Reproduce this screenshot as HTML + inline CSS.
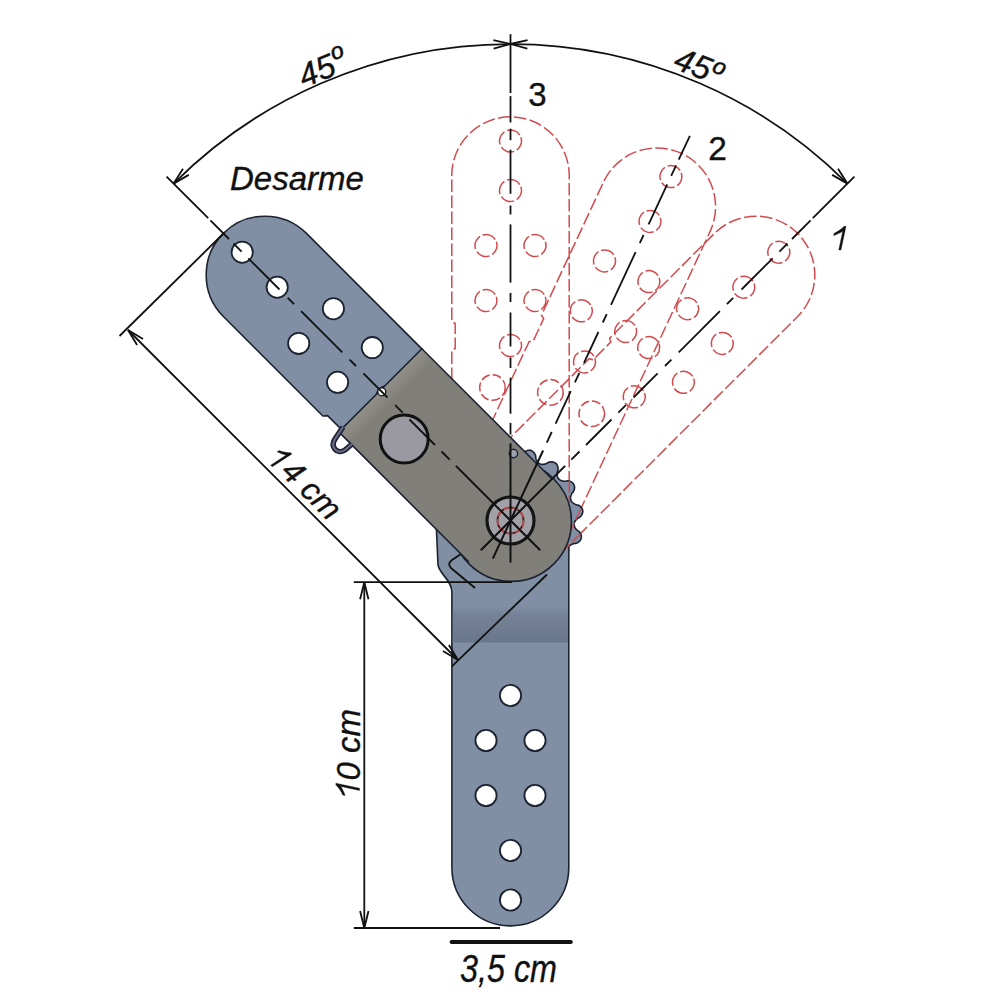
<!DOCTYPE html>
<html><head><meta charset="utf-8"><style>
html,body{margin:0;padding:0;background:#fff;}
svg{display:block;}
</style></head><body>
<svg width="1000" height="1000" viewBox="0 0 1000 1000">
<defs><linearGradient id="band" x1="0" y1="0" x2="0" y2="1"><stop offset="0" stop-color="#6f7c90" stop-opacity="0"/><stop offset="0.25" stop-color="#6f7c90" stop-opacity="0.7"/><stop offset="0.97" stop-color="#68758a" stop-opacity="0.95"/><stop offset="1" stop-color="#68758a" stop-opacity="0"/></linearGradient></defs>
<rect width="1000" height="1000" fill="#fff"/>
<path d="M569.2,483.5 L569.2,173.2 A58.75,58.75 0 0 0 451.8,173.2 L451.8,321.5 L455.2,323.5 L455.2,348.5 L451.8,350.5 L451.8,520.5" fill="none" stroke="#d04a4e" stroke-width="1.5" stroke-dasharray="12.5 3.5"/>
<circle cx="510.5" cy="141.0" r="11" fill="none" stroke="#d04a4e" stroke-width="1.5" stroke-dasharray="14.3 3" transform="rotate(-20 510.5 141.0)"/>
<circle cx="510.5" cy="190.5" r="11" fill="none" stroke="#d04a4e" stroke-width="1.5" stroke-dasharray="14.3 3" transform="rotate(-20 510.5 190.5)"/>
<circle cx="486.0" cy="245.5" r="11" fill="none" stroke="#d04a4e" stroke-width="1.5" stroke-dasharray="14.3 3" transform="rotate(-20 486.0 245.5)"/>
<circle cx="535.0" cy="245.5" r="11" fill="none" stroke="#d04a4e" stroke-width="1.5" stroke-dasharray="14.3 3" transform="rotate(-20 535.0 245.5)"/>
<circle cx="486.0" cy="300.5" r="11" fill="none" stroke="#d04a4e" stroke-width="1.5" stroke-dasharray="14.3 3" transform="rotate(-20 486.0 300.5)"/>
<circle cx="535.0" cy="300.5" r="11" fill="none" stroke="#d04a4e" stroke-width="1.5" stroke-dasharray="14.3 3" transform="rotate(-20 535.0 300.5)"/>
<circle cx="510.5" cy="345.5" r="11" fill="none" stroke="#d04a4e" stroke-width="1.5" stroke-dasharray="14.3 3" transform="rotate(-20 510.5 345.5)"/>
<circle cx="492.5" cy="387.5" r="12.8" fill="none" stroke="#d04a4e" stroke-width="1.5" stroke-dasharray="9 3"/>
<path d="M579.4,511.8 L710.5,230.6 A58.75,58.75 0 0 0 604.0,181.0 L541.4,315.3 L543.7,318.6 L533.1,341.3 L529.1,341.6 L457.3,495.7" fill="none" stroke="#d04a4e" stroke-width="1.5" stroke-dasharray="12.5 3.5"/>
<circle cx="670.9" cy="176.6" r="11" fill="none" stroke="#d04a4e" stroke-width="1.5" stroke-dasharray="14.3 3" transform="rotate(-20 670.9 176.6)"/>
<circle cx="650.0" cy="221.4" r="11" fill="none" stroke="#d04a4e" stroke-width="1.5" stroke-dasharray="14.3 3" transform="rotate(-20 650.0 221.4)"/>
<circle cx="604.5" cy="260.9" r="11" fill="none" stroke="#d04a4e" stroke-width="1.5" stroke-dasharray="14.3 3" transform="rotate(-20 604.5 260.9)"/>
<circle cx="648.9" cy="281.6" r="11" fill="none" stroke="#d04a4e" stroke-width="1.5" stroke-dasharray="14.3 3" transform="rotate(-20 648.9 281.6)"/>
<circle cx="581.3" cy="310.8" r="11" fill="none" stroke="#d04a4e" stroke-width="1.5" stroke-dasharray="14.3 3" transform="rotate(-20 581.3 310.8)"/>
<circle cx="625.7" cy="331.5" r="11" fill="none" stroke="#d04a4e" stroke-width="1.5" stroke-dasharray="14.3 3" transform="rotate(-20 625.7 331.5)"/>
<circle cx="584.5" cy="361.9" r="11" fill="none" stroke="#d04a4e" stroke-width="1.5" stroke-dasharray="14.3 3" transform="rotate(-20 584.5 361.9)"/>
<circle cx="550.4" cy="392.4" r="12.8" fill="none" stroke="#d04a4e" stroke-width="1.5" stroke-dasharray="9 3"/>
<path d="M578.2,535.9 L797.6,316.5 A58.75,58.75 0 0 0 714.5,233.4 L609.7,338.2 L610.7,342.1 L593.1,359.8 L589.2,358.7 L469.0,479.0" fill="none" stroke="#d04a4e" stroke-width="1.5" stroke-dasharray="12.5 3.5"/>
<circle cx="778.8" cy="252.2" r="11" fill="none" stroke="#d04a4e" stroke-width="1.5" stroke-dasharray="14.3 3" transform="rotate(-20 778.8 252.2)"/>
<circle cx="743.8" cy="287.2" r="11" fill="none" stroke="#d04a4e" stroke-width="1.5" stroke-dasharray="14.3 3" transform="rotate(-20 743.8 287.2)"/>
<circle cx="687.6" cy="308.7" r="11" fill="none" stroke="#d04a4e" stroke-width="1.5" stroke-dasharray="14.3 3" transform="rotate(-20 687.6 308.7)"/>
<circle cx="722.3" cy="343.4" r="11" fill="none" stroke="#d04a4e" stroke-width="1.5" stroke-dasharray="14.3 3" transform="rotate(-20 722.3 343.4)"/>
<circle cx="648.7" cy="347.6" r="11" fill="none" stroke="#d04a4e" stroke-width="1.5" stroke-dasharray="14.3 3" transform="rotate(-20 648.7 347.6)"/>
<circle cx="683.4" cy="382.3" r="11" fill="none" stroke="#d04a4e" stroke-width="1.5" stroke-dasharray="14.3 3" transform="rotate(-20 683.4 382.3)"/>
<circle cx="634.2" cy="396.8" r="11" fill="none" stroke="#d04a4e" stroke-width="1.5" stroke-dasharray="14.3 3" transform="rotate(-20 634.2 396.8)"/>
<circle cx="591.8" cy="413.7" r="12.8" fill="none" stroke="#d04a4e" stroke-width="1.5" stroke-dasharray="9 3"/>
<line x1="510.5" y1="434.5" x2="510.5" y2="422.9" stroke="#111" stroke-width="1.8"/>
<line x1="510.5" y1="413.7" x2="510.5" y2="377.7" stroke="#111" stroke-width="1.8"/>
<line x1="510.5" y1="368.0" x2="510.5" y2="357.5" stroke="#111" stroke-width="1.8"/>
<line x1="510.5" y1="346.5" x2="510.5" y2="312.5" stroke="#111" stroke-width="1.8"/>
<line x1="510.5" y1="302.0" x2="510.5" y2="292.9" stroke="#111" stroke-width="1.8"/>
<line x1="510.5" y1="282.6" x2="510.5" y2="224.4" stroke="#111" stroke-width="1.8"/>
<line x1="510.5" y1="214.5" x2="510.5" y2="205.5" stroke="#111" stroke-width="1.8"/>
<line x1="510.5" y1="193.8" x2="510.5" y2="149.7" stroke="#111" stroke-width="1.8"/>
<line x1="510.5" y1="140.2" x2="510.5" y2="128.7" stroke="#111" stroke-width="1.8"/>
<line x1="510.5" y1="122.4" x2="510.5" y2="96.1" stroke="#111" stroke-width="1.8"/>
<line x1="510.5" y1="93.0" x2="510.5" y2="34.2" stroke="#111" stroke-width="1.8"/>
<line x1="546.8" y1="442.6" x2="551.7" y2="432.0" stroke="#111" stroke-width="1.8"/>
<line x1="555.6" y1="423.7" x2="570.8" y2="391.1" stroke="#111" stroke-width="1.8"/>
<line x1="574.9" y1="382.3" x2="579.4" y2="372.8" stroke="#111" stroke-width="1.8"/>
<line x1="584.0" y1="362.8" x2="598.4" y2="332.0" stroke="#111" stroke-width="1.8"/>
<line x1="602.8" y1="322.5" x2="606.7" y2="314.2" stroke="#111" stroke-width="1.8"/>
<line x1="611.0" y1="304.9" x2="635.6" y2="252.1" stroke="#111" stroke-width="1.8"/>
<line x1="639.8" y1="243.2" x2="643.6" y2="235.0" stroke="#111" stroke-width="1.8"/>
<line x1="648.6" y1="224.4" x2="667.2" y2="184.4" stroke="#111" stroke-width="1.8"/>
<line x1="671.2" y1="175.8" x2="676.1" y2="165.4" stroke="#111" stroke-width="1.8"/>
<line x1="678.7" y1="159.7" x2="689.9" y2="135.9" stroke="#111" stroke-width="1.8"/>
<line x1="571.3" y1="459.7" x2="579.5" y2="451.5" stroke="#111" stroke-width="1.8"/>
<line x1="586.0" y1="445.0" x2="611.5" y2="419.5" stroke="#111" stroke-width="1.8"/>
<line x1="618.3" y1="412.7" x2="625.8" y2="405.2" stroke="#111" stroke-width="1.8"/>
<line x1="633.5" y1="397.5" x2="657.6" y2="373.4" stroke="#111" stroke-width="1.8"/>
<line x1="665.0" y1="366.0" x2="671.4" y2="359.6" stroke="#111" stroke-width="1.8"/>
<line x1="678.7" y1="352.3" x2="719.9" y2="311.1" stroke="#111" stroke-width="1.8"/>
<line x1="726.9" y1="304.1" x2="733.2" y2="297.8" stroke="#111" stroke-width="1.8"/>
<line x1="741.5" y1="289.5" x2="772.7" y2="258.3" stroke="#111" stroke-width="1.8"/>
<line x1="779.4" y1="251.6" x2="787.5" y2="243.5" stroke="#111" stroke-width="1.8"/>
<line x1="792.0" y1="239.0" x2="810.6" y2="220.4" stroke="#111" stroke-width="1.8"/>
<line x1="812.8" y1="218.2" x2="854.4" y2="176.6" stroke="#111" stroke-width="1.8"/>
<path d="M451.9,867.5 L451.9,592 C451.9,580 440,575 438,565 L436.5,531 L436.5,470 L512.8,455.5 L512.8,455.5 L513.3,455.9 L513.8,456.2 L514.3,456.5 L514.8,456.7 L515.3,456.9 L515.8,457.0 L516.3,457.1 L516.9,457.1 L517.4,457.0 L517.9,457.0 L518.5,456.8 L519.0,456.6 L519.6,456.4 L520.2,456.1 L520.8,455.7 L521.4,455.3 L522.0,454.8 L522.7,454.1 L523.5,452.9 L524.2,452.2 L524.9,451.7 L525.6,451.3 L526.2,450.9 L526.9,450.7 L527.5,450.5 L528.2,450.3 L528.8,450.3 L529.4,450.3 L530.0,450.3 L530.6,450.4 L531.2,450.6 L531.7,450.8 L532.2,451.1 L532.8,451.5 L533.2,451.9 L533.7,452.3 L534.1,452.8 L534.6,453.4 L534.9,454.1 L535.3,454.8 L535.6,455.6 L535.8,456.6 L535.8,458.1 L536.0,459.0 L536.3,459.7 L536.6,460.4 L536.9,461.0 L537.2,461.6 L537.6,462.1 L538.0,462.5 L538.3,462.9 L538.7,463.3 L539.2,463.6 L539.6,463.8 L540.1,464.1 L540.6,464.2 L541.1,464.3 L541.7,464.4 L542.3,464.5 L542.9,464.4 L543.5,464.4 L544.2,464.3 L544.9,464.1 L545.7,463.9 L546.5,463.6 L547.7,462.8 L548.7,462.3 L549.5,462.1 L550.3,462.0 L551.0,461.9 L551.7,461.9 L552.4,461.9 L553.1,462.1 L553.7,462.2 L554.3,462.4 L554.8,462.7 L555.3,463.0 L555.8,463.4 L556.2,463.8 L556.6,464.2 L556.9,464.8 L557.3,465.3 L557.5,465.9 L557.7,466.5 L557.9,467.2 L558.0,468.0 L558.1,468.7 L558.1,469.6 L557.9,470.6 L557.4,472.0 L557.2,472.9 L557.2,473.7 L557.2,474.4 L557.3,475.1 L557.4,475.8 L557.5,476.4 L557.6,476.9 L557.8,477.5 L558.1,478.0 L558.4,478.4 L558.7,478.8 L559.0,479.2 L559.4,479.5 L559.9,479.9 L560.3,480.1 L560.9,480.4 L561.4,480.6 L562.0,480.8 L562.7,481.0 L563.4,481.1 L564.2,481.2 L565.1,481.2 L566.4,481.0 L567.5,480.8 L568.4,480.9 L569.2,481.1 L569.9,481.3 L570.6,481.6 L571.2,481.9 L571.8,482.2 L572.3,482.6 L572.8,483.0 L573.2,483.4 L573.5,483.9 L573.8,484.4 L574.1,485.0 L574.3,485.5 L574.4,486.1 L574.5,486.7 L574.6,487.4 L574.5,488.1 L574.4,488.8 L574.3,489.5 L574.1,490.2 L573.7,491.0 L573.3,491.9 L572.2,492.9 L571.7,493.8 L571.4,494.5 L571.1,495.2 L570.9,495.9 L570.7,496.5 L570.6,497.1 L570.5,497.7 L570.5,498.3 L570.5,498.8 L570.6,499.3 L570.8,499.8 L570.9,500.3 L571.2,500.8 L571.4,501.2 L571.8,501.7 L572.2,502.1 L572.6,502.5 L573.1,503.0 L573.6,503.4 L574.2,503.7 L574.9,504.1 L575.7,504.5 L576.8,504.8 L578.1,505.1 L578.9,505.5 L579.6,505.9 L580.2,506.4 L580.7,506.8 L581.2,507.4 L581.6,507.9 L582.0,508.4 L582.2,509.0 L582.5,509.5 L582.6,510.1 L582.7,510.7 L582.8,511.3 L582.8,511.9 L582.7,512.5 L582.5,513.1 L582.3,513.7 L582.1,514.3 L581.7,514.9 L581.3,515.5 L580.8,516.2 L580.3,516.8 L579.6,517.4 L578.2,518.0 L577.4,518.6 L576.8,519.1 L576.2,519.7 L575.8,520.2 L575.4,520.7 L575.0,521.3 L574.7,521.8 L574.5,522.3 L574.3,522.8 L574.2,523.3 L574.1,523.8 L574.1,524.4 L574.1,524.9 L574.2,525.4 L574.3,525.9 L574.5,526.5 L574.8,527.0 L575.0,527.6 L575.4,528.2 L575.8,528.7 L576.3,529.4 L576.8,530.0 L577.7,530.7 L578.9,531.4 L579.5,532.1 L580.0,532.8 L580.4,533.4 L580.7,534.1 L581.0,534.7 L581.1,535.3 L581.3,536.0 L581.3,536.6 L581.3,537.2 L581.3,537.8 L581.2,538.4 L581.0,539.0 L580.8,539.5 L580.5,540.0 L580.1,540.5 L579.7,541.0 L579.2,541.5 L578.7,542.0 L578.1,542.4 L577.5,542.8 L576.7,543.1 L575.8,543.4 L574.4,543.5 L573.4,543.7 L572.6,544.0 L571.9,544.3 L571.2,544.6 L570.6,545.0 L570.1,545.3 L569.7,545.7 L569.2,546.1 L568.9,546.5 L568.8,561.4 L568.8,867.5 A58.45,58.45 0 0 1 451.9,867.5 Z" fill="#808fa4" stroke="#1c2230" stroke-width="1.6"/>
<rect x="452.7" y="606" width="115.3" height="37" fill="url(#band)"/>
<circle cx="510.5" cy="900.0" r="10.6" fill="#fff" stroke="#1c2230" stroke-width="1.8"/>
<circle cx="510.5" cy="850.5" r="10.6" fill="#fff" stroke="#1c2230" stroke-width="1.8"/>
<circle cx="535.0" cy="795.5" r="10.6" fill="#fff" stroke="#1c2230" stroke-width="1.8"/>
<circle cx="486.0" cy="795.5" r="10.6" fill="#fff" stroke="#1c2230" stroke-width="1.8"/>
<circle cx="535.0" cy="740.5" r="10.6" fill="#fff" stroke="#1c2230" stroke-width="1.8"/>
<circle cx="486.0" cy="740.5" r="10.6" fill="#fff" stroke="#1c2230" stroke-width="1.8"/>
<circle cx="510.5" cy="695.5" r="10.6" fill="#fff" stroke="#1c2230" stroke-width="1.8"/>
<line x1="451.9" y1="666.3" x2="547" y2="574.5" stroke="#111" stroke-width="1.8"/>
<path d="M461,554 L452,560 Q447,564 451,568 L475,588" fill="none" stroke="#111" stroke-width="1.8"/>
<line x1="569.2" y1="480.5" x2="569.2" y2="515.5" stroke="#d04a4e" stroke-width="1.6" stroke-dasharray="12 3" opacity="0.85"/>
<line x1="580.7" y1="509.1" x2="565.9" y2="540.8" stroke="#d04a4e" stroke-width="1.6" stroke-dasharray="12 3" opacity="0.85"/>
<line x1="580.3" y1="533.8" x2="555.6" y2="558.5" stroke="#d04a4e" stroke-width="1.6" stroke-dasharray="12 3" opacity="0.85"/>
<path d="M422.6,349.6 L306.5,233.4 A58.75,58.75 0 0 0 223.4,316.5 L322.9,416.0 L327.6,415.6 L342.1,430.1 Z" fill="#808fa4" stroke="#1c2230" stroke-width="1.6"/>
<circle cx="242.2" cy="252.2" r="10.6" fill="#fff" stroke="#1c2230" stroke-width="1.8"/>
<circle cx="277.2" cy="287.2" r="10.6" fill="#fff" stroke="#1c2230" stroke-width="1.8"/>
<circle cx="298.7" cy="343.4" r="10.6" fill="#fff" stroke="#1c2230" stroke-width="1.8"/>
<circle cx="333.4" cy="308.7" r="10.6" fill="#fff" stroke="#1c2230" stroke-width="1.8"/>
<circle cx="337.6" cy="382.3" r="10.6" fill="#fff" stroke="#1c2230" stroke-width="1.8"/>
<circle cx="372.3" cy="347.6" r="10.6" fill="#fff" stroke="#1c2230" stroke-width="1.8"/>
<circle cx="386.8" cy="396.8" r="10.6" fill="#fff" stroke="#1c2230" stroke-width="1.8"/>
<defs><linearGradient id="sheen" gradientUnits="userSpaceOnUse" x1="380.4" y1="390.4" x2="391.7" y2="401.7"><stop offset="0" stop-color="#939089"/><stop offset="1" stop-color="#807f79"/></linearGradient></defs>
<circle cx="511.4" cy="521.4" r="60" fill="#807f79" stroke="#1c2230" stroke-width="1.6"/>
<path d="M421.9,348.8 L554.2,481.1 L471.1,564.2 L338.8,431.9 Z" fill="url(#sheen)" stroke="none"/>
<path d="M338.8,431.9 L421.9,348.8 L552.0,479.0 M469.0,562.0 L338.8,431.9" fill="none" stroke="#1c2230" stroke-width="1.6"/>
<circle cx="381.8" cy="391.8" r="4" fill="#fff" stroke="#111" stroke-width="1.3"/>
<circle cx="404.2" cy="439" r="24" fill="#9a98a1" stroke="#111" stroke-width="3"/>
<path d="M343,427 L335,439 C330,447 337,455 345,450 L352,444" fill="none" stroke="#23253a" stroke-width="5.5"/>
<path d="M343,427 L335,439 C330,447 337,455 345,450 L352,444" fill="none" stroke="#6d6c85" stroke-width="2"/>
<circle cx="510.5" cy="520.5" r="23.5" fill="#a3a1a8" stroke="#151515" stroke-width="3.2"/>
<circle cx="510.5" cy="520.5" r="13" fill="none" stroke="#3a1a1a" stroke-width="1.8"/>
<circle cx="510.5" cy="520.5" r="13" fill="none" stroke="#d04a4e" stroke-width="1.5" stroke-dasharray="6 3"/>
<circle cx="513.4" cy="453.6" r="4.2" fill="#9da2b2" stroke="#1c2230" stroke-width="1.4"/>
<line x1="510.5" y1="562.5" x2="510.5" y2="443.3" stroke="#111" stroke-width="2"/>
<line x1="492.8" y1="558.6" x2="543.1" y2="450.5" stroke="#111" stroke-width="2"/>
<line x1="480.8" y1="550.2" x2="565.1" y2="465.9" stroke="#111" stroke-width="2"/>
<line x1="540.2" y1="550.2" x2="455.9" y2="465.9" stroke="#111" stroke-width="2"/>
<line x1="449.7" y1="459.7" x2="441.5" y2="451.5" stroke="#111" stroke-width="1.8"/>
<line x1="435.0" y1="445.0" x2="409.5" y2="419.5" stroke="#111" stroke-width="1.8"/>
<line x1="402.7" y1="412.7" x2="395.2" y2="405.2" stroke="#111" stroke-width="1.8"/>
<line x1="387.5" y1="397.5" x2="363.4" y2="373.4" stroke="#111" stroke-width="1.8"/>
<line x1="356.0" y1="366.0" x2="349.6" y2="359.6" stroke="#111" stroke-width="1.8"/>
<line x1="342.3" y1="352.3" x2="301.1" y2="311.1" stroke="#111" stroke-width="1.8"/>
<line x1="294.1" y1="304.1" x2="287.8" y2="297.8" stroke="#111" stroke-width="1.8"/>
<line x1="279.5" y1="289.5" x2="248.3" y2="258.3" stroke="#111" stroke-width="1.8"/>
<line x1="241.6" y1="251.6" x2="233.5" y2="243.5" stroke="#111" stroke-width="1.8"/>
<line x1="229.0" y1="239.0" x2="210.4" y2="220.4" stroke="#111" stroke-width="1.8"/>
<line x1="208.2" y1="218.2" x2="166.6" y2="176.6" stroke="#111" stroke-width="1.8"/>
<path d="M173.6,183.6 A476.5,476.5 0 0 1 847.4,183.6" fill="none" stroke="#111" stroke-width="1.8"/>
<path d="M493.4,40.2 L510.5,44.0 L493.6,48.6" fill="none" stroke="#111" stroke-width="1.8" stroke-linejoin="miter"/>
<path d="M527.4,48.6 L510.5,44.0 L527.6,40.2" fill="none" stroke="#111" stroke-width="1.8" stroke-linejoin="miter"/>
<path d="M188.8,174.9 L173.6,183.6 L183.0,168.8" fill="none" stroke="#111" stroke-width="1.8" stroke-linejoin="miter"/>
<path d="M838.0,168.8 L847.4,183.6 L832.2,174.9" fill="none" stroke="#111" stroke-width="1.8" stroke-linejoin="miter"/>
<line x1="224" y1="233" x2="119.5" y2="336" stroke="#111" stroke-width="1.8"/>
<line x1="128" y1="330" x2="458" y2="660" stroke="#111" stroke-width="1.8"/>
<path d="M137.1,345.0 L128.0,330.0 L143.0,339.1" fill="none" stroke="#111" stroke-width="1.8" stroke-linejoin="miter"/>
<path d="M448.9,645.0 L458.0,660.0 L443.0,650.9" fill="none" stroke="#111" stroke-width="1.8" stroke-linejoin="miter"/>
<line x1="353.8" y1="582.2" x2="512" y2="582.2" stroke="#111" stroke-width="1.8"/>
<line x1="353.8" y1="928" x2="500" y2="928" stroke="#111" stroke-width="1.8"/>
<line x1="364.3" y1="582.2" x2="364.3" y2="928" stroke="#111" stroke-width="1.8"/>
<path d="M360.1,599.2 L364.3,582.2 L368.5,599.2" fill="none" stroke="#111" stroke-width="1.8" stroke-linejoin="miter"/>
<path d="M368.5,911.0 L364.3,928.0 L360.1,911.0" fill="none" stroke="#111" stroke-width="1.8" stroke-linejoin="miter"/>
<line x1="451.6" y1="942" x2="570.8" y2="942" stroke="#111" stroke-width="4" stroke-linecap="round"/>
<text x="230" y="189.5" font-family="Liberation Sans, sans-serif" fill="#111" stroke="#111" stroke-width="0.35" font-size="33" font-style="italic">Desarme</text>
<text x="528.3" y="106.2" font-family="Liberation Sans, sans-serif" fill="#111" stroke="#111" stroke-width="0.35" font-size="33">3</text>
<text x="708.3" y="160" font-family="Liberation Sans, sans-serif" fill="#111" stroke="#111" stroke-width="0.35" font-size="33.5">2</text>
<path d="M0.374,0 L0.374,-0.565 C0.31,-0.515 0.22,-0.47 0.128,-0.435 L0.128,-0.51 C0.23,-0.555 0.33,-0.635 0.384,-0.716 L0.442,-0.716 L0.442,0 Z" fill="#111" stroke="#111" stroke-width="0.0106" transform="translate(826.4,250) skewX(-12) scale(33)"/>
<text x="0" y="0" font-family="Liberation Sans, sans-serif" fill="#111" stroke="#111" stroke-width="0.35" font-size="33" font-style="italic" transform="translate(304,88) rotate(-22)">45<tspan dy="-3.5">º</tspan></text>
<text x="0" y="0" font-family="Liberation Sans, sans-serif" fill="#111" stroke="#111" stroke-width="0.35" font-size="33" font-style="italic" transform="translate(672,68) rotate(21)">45º</text>
<path d="M0.374,0 L0.374,-0.565 C0.31,-0.515 0.22,-0.47 0.128,-0.435 L0.128,-0.51 C0.23,-0.555 0.33,-0.635 0.384,-0.716 L0.442,-0.716 L0.442,0 Z" fill="#111" stroke="#111" stroke-width="0.0109" transform="translate(267,460.3) rotate(45) translate(-5.9,0.8) skewX(-12) scale(32)"/>
<text x="17.8" y="0" font-family="Liberation Sans, sans-serif" fill="#111" stroke="#111" stroke-width="0.35" font-size="32" font-style="italic" transform="translate(267,460.3) rotate(45)">4 cm</text>
<path d="M0.374,0 L0.374,-0.565 C0.31,-0.515 0.22,-0.47 0.128,-0.435 L0.128,-0.51 C0.23,-0.555 0.33,-0.635 0.384,-0.716 L0.442,-0.716 L0.442,0 Z" fill="#111" stroke="#111" stroke-width="0.0106" transform="translate(359.5,798.8) rotate(-90) translate(-4,0) skewX(-12) scale(33)"/>
<text x="18.35" y="0" font-family="Liberation Sans, sans-serif" fill="#111" stroke="#111" stroke-width="0.35" font-size="33" font-style="italic" transform="translate(359.5,798.8) rotate(-90)">0 cm</text>
<text x="0" y="0" font-family="Liberation Sans, sans-serif" fill="#111" stroke="#111" stroke-width="0.35" font-size="38.5" font-style="italic" transform="translate(460,982) scale(0.84,1)">3,5 cm</text>
</svg>
</body></html>
